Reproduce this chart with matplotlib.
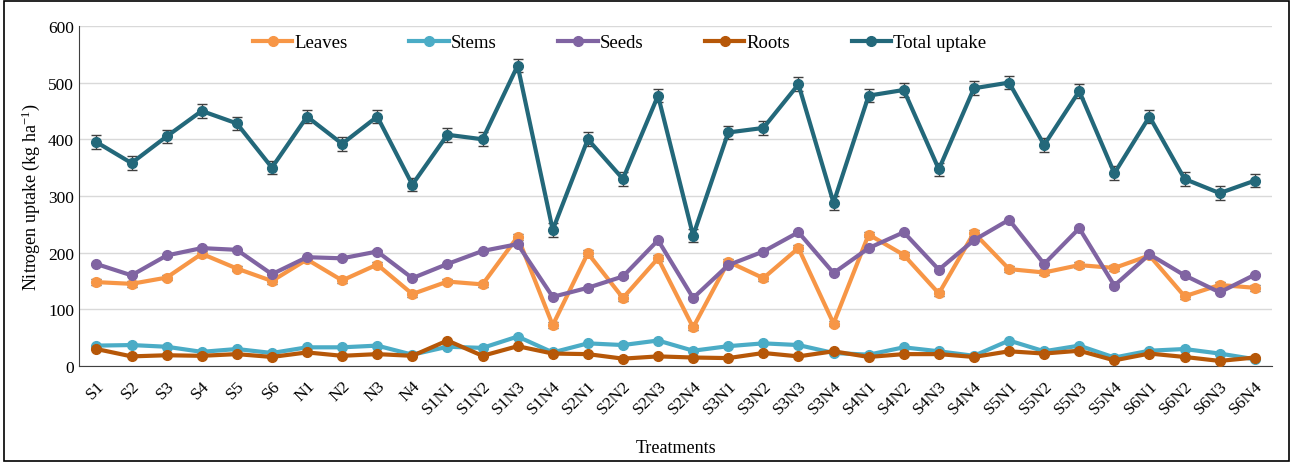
import matplotlib.pyplot as plt
import numpy as np

plt.rcParams['font.family'] = ['Liberation Serif', 'DejaVu Serif']
plt.rcParams['mathtext.fontset'] = 'custom'
plt.rcParams['mathtext.rm'] = 'Liberation Serif'

treatments = ['S1', 'S2', 'S3', 'S4', 'S5', 'S6', 'N1', 'N2', 'N3', 'N4',
              'S1N1', 'S1N2', 'S1N3', 'S1N4', 'S2N1', 'S2N2', 'S2N3', 'S2N4',
              'S3N1', 'S3N2', 'S3N3', 'S3N4', 'S4N1', 'S4N2', 'S4N3', 'S4N4',
              'S5N1', 'S5N2', 'S5N3', 'S5N4', 'S6N1', 'S6N2', 'S6N3', 'S6N4']

leaves = [148, 145, 156, 198, 172, 150, 188, 151, 179, 127,
          149, 144, 228, 72, 199, 120, 190, 68,
          184, 155, 208, 75, 232, 196, 128, 235,
          171, 165, 178, 173, 195, 123, 143, 138]
stems = [36, 37, 34, 25, 30, 23, 33, 33, 36, 20,
         34, 32, 52, 24, 40, 37, 45, 27,
         35, 40, 37, 23, 20, 33, 26, 18,
         45, 26, 36, 15, 27, 30, 22, 12]
seeds = [180, 160, 195, 208, 205, 162, 192, 190, 202, 155,
         180, 203, 215, 122, 138, 158, 222, 120,
         178, 202, 236, 164, 208, 236, 170, 222,
         258, 180, 243, 142, 197, 160, 130, 161]
roots = [30, 17, 19, 18, 21, 16, 24, 18, 21, 18,
         45, 18, 35, 22, 21, 13, 17, 15,
         14, 23, 17, 26, 16, 21, 21, 16,
         26, 22, 27, 10, 22, 16, 9, 15]
total = [395, 358, 405, 450, 428, 350, 440, 392, 440, 320,
         408, 400, 530, 240, 400, 330, 477, 230,
         412, 420, 497, 288, 477, 487, 347, 490,
         500, 390, 485, 340, 440, 330, 305, 327]

leaves_err = 5
total_err = 12

fig = plt.figure(figsize=(12.93, 4.64), dpi=100)
ax = fig.add_axes([0.061, 0.209, 0.923, 0.733])

x = np.arange(len(treatments))
series = [('Leaves', leaves, '#F79646', leaves_err),
          ('Stems', stems, '#4BACC6', 0),
          ('Seeds', seeds, '#8064A2', 2),
          ('Roots', roots, '#B65708', 0),
          ('Total uptake', total, '#23687A', total_err)]

for name, vals, col, err in series:
    if err:
        ax.errorbar(x, vals, yerr=err, fmt='none', ecolor='#404040',
                    elinewidth=1, capsize=3.5, capthick=1, zorder=2)
    ax.plot(x, vals, color=col, lw=3, marker='o', ms=7, label=name, zorder=3)

ax.set_xlim(-0.5, len(treatments) - 0.5)
ax.set_ylim(0, 600)
ax.set_yticks(range(0, 601, 100))
ax.set_xticks(x)
ax.set_xticklabels(treatments, rotation=45, ha='right', rotation_mode='anchor')
ax.tick_params(axis='both', length=0, labelsize=12.5)
ax.tick_params(axis='x', pad=8)
ax.grid(axis='y', color='#D9D9D9', lw=1)
ax.set_axisbelow(True)
for s in ['top', 'right']:
    ax.spines[s].set_visible(False)
ax.spines['left'].set_color('#404040')
ax.spines['bottom'].set_color('#404040')

ax.set_ylabel(r'Nitrogen uptake (kg ha$\mathregular{^{-1}}$)', fontsize=13)
ax.set_xlabel('Treatments', fontsize=13, labelpad=16)

ax.legend(loc='upper center', bbox_to_anchor=(0.453, 1.025), ncol=5, frameon=False,
          fontsize=13.5, handlelength=2.1, columnspacing=3.3, handletextpad=0.1)

fig.patches.append(plt.Rectangle((0.003, 0.005), 0.994, 0.99, transform=fig.transFigure,
                                 fill=False, edgecolor='black', lw=1.2))

fig.savefig('out.png', dpi=100)
